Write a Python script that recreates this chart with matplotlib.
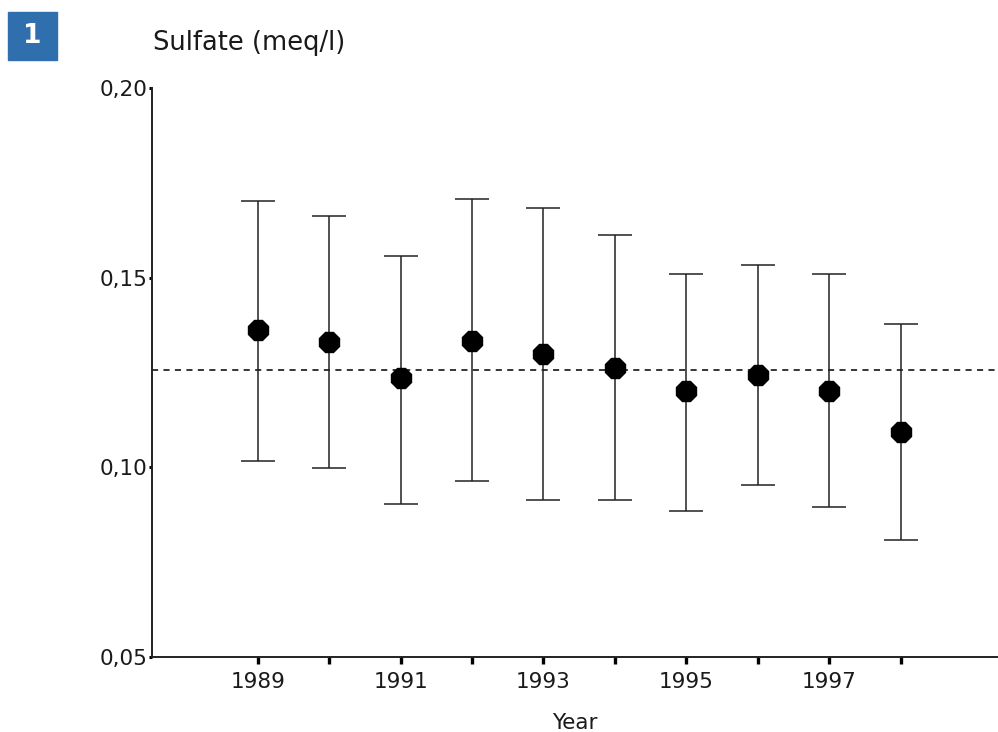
import numpy as np
import matplotlib.pyplot as plt
from matplotlib.patches import Rectangle

# data
years = [1989, 1990, 1991, 1992, 1993, 1994, 1995, 1996, 1997, 1998]
mean = [0.1362, 0.1330, 0.1235, 0.1333, 0.1299, 0.1262, 0.1201, 0.1243, 0.1201, 0.1093]
upper = [0.1702, 0.1663, 0.1557, 0.1707, 0.1684, 0.1612, 0.1510, 0.1533, 0.1510, 0.1378]
lower = [0.1017, 0.0998, 0.0903, 0.0964, 0.0914, 0.0914, 0.0885, 0.0953, 0.0895, 0.0808]
overall_mean = 0.1257
year_labels = ['1989', '', '1991', '', '1993', '', '1995', '', '1997', '']
y_ticks = [0.05, 0.10, 0.15, 0.20]
y_labels = ['0,05', '0,10', '0,15', '0,20']

plt.rcParams['font.family'] = ['DejaVu Sans']

fig = plt.figure(figsize=(9.98, 7.32), dpi=100)
ax = fig.add_axes([0.1523, 0.1025, 0.8467, 0.7773])

m = np.array(mean)
err = [m - np.array(lower), np.array(upper) - m]
ax.errorbar(years, mean, yerr=err, fmt='8', color='black', ecolor='#222222',
            markersize=15, elinewidth=1.1, capsize=12.5, capthick=1.1, zorder=3)

ax.axhline(overall_mean, color='black', lw=1.1, ls=(0, (4, 3.5)), zorder=2)

ax.set_xlim(1987.52, 1999.35)
ax.set_ylim(0.05, 0.20)
ax.set_xticks(years)
ax.set_xticklabels(year_labels, fontsize=15.5, color='#1a1a1a')
ax.set_yticks(y_ticks)
ax.set_yticklabels(y_labels, fontsize=15.5, color='#1a1a1a')

for s in ['top', 'right']:
    ax.spines[s].set_visible(False)
for s in ['left', 'bottom']:
    ax.spines[s].set_linewidth(1.4)
    ax.spines[s].set_color('#222222')
ax.tick_params(axis='x', direction='out', length=5, width=2.4, pad=6)
ax.tick_params(axis='y', direction='out', length=2.5, width=2.2, pad=1)

# axis title sits at the very bottom edge
fig.text(575 / 998, 3 / 732, 'Year', ha='center', va='baseline',
         fontsize=15.5, color='#1a1a1a')
fig.text(153 / 998, 1 - 43 / 732, 'Sulfate (meq/l)', ha='left', va='center',
         fontsize=18.5, color='#1a1a1a')

fig.patches.append(Rectangle((8 / 998, 1 - 60 / 732), 49 / 998, 48 / 732,
                             transform=fig.transFigure, color='#2f6fad'))
fig.text(32.5 / 998, 1 - 36 / 732, '1', ha='center', va='center',
         fontsize=19, color='white', fontweight='bold')

fig.savefig('out.png', dpi=100)
